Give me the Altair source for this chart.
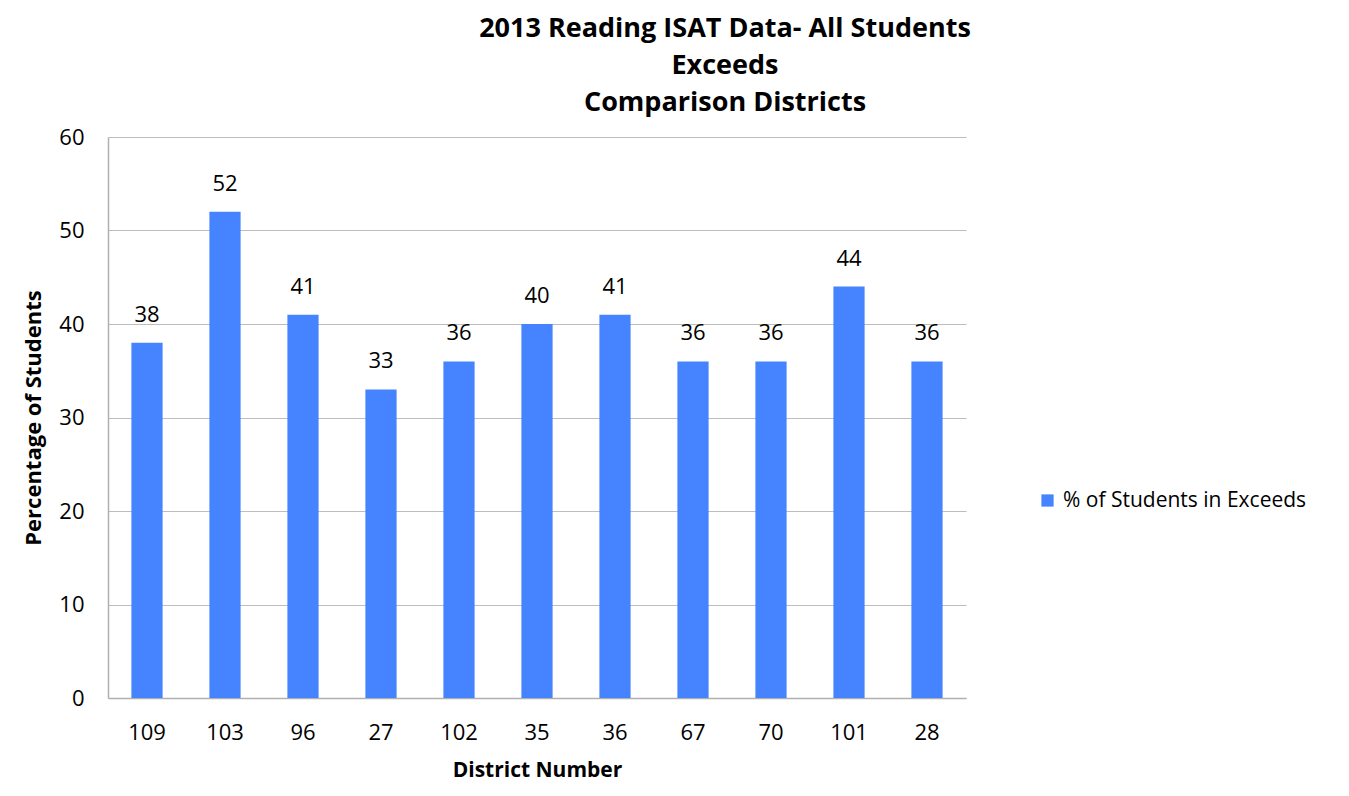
import altair as alt
import pandas as pd

districts = ["109", "103", "96", "27", "102", "35", "36", "67", "70", "101", "28"]
values = [38, 52, 41, 33, 36, 40, 41, 36, 36, 44, 36]
series = "% of Students in Exceeds"

df = pd.DataFrame({"District": districts, "Value": values, "Series": series})

FONT = "Open Sans"
W, H = 858, 561

x = alt.X("District:N", sort=districts,
          scale=alt.Scale(paddingInner=0.6, paddingOuter=0.3),
          axis=alt.Axis(title="District Number", labelAngle=0, labelFontSize=22,
                        labelFont=FONT, labelColor="black", titleFont=FONT,
                        titleFontSize=21, titleFontWeight="bold", titleColor="black",
                        ticks=False, labelPadding=24, titlePadding=16,
                        domainColor="#B0B0B0", domainWidth=1.5))
y = alt.Y("Value:Q", scale=alt.Scale(domain=[0, 60]),
          axis=alt.Axis(title="Percentage of Students", values=[0, 10, 20, 30, 40, 50, 60],
                        labelFontSize=22, labelFont=FONT, labelColor="black",
                        titleFont=FONT, titleFontSize=22, titleFontWeight="bold",
                        titleColor="black", ticks=False, labelPadding=24, titlePadding=13,
                        gridColor="#BDBDBD", gridWidth=1, domainColor="#B0B0B0",
                        domainWidth=1.5))

bars = alt.Chart(df).mark_bar(color="#4583FF").encode(
    x=x, y=y,
    color=alt.Color("Series:N", scale=alt.Scale(range=["#4583FF"]),
                    legend=alt.Legend(title=None, orient="none", legendX=929, legendY=353,
                                      symbolType="square", symbolSize=150,
                                      symbolStrokeWidth=0, labelFontSize=21,
                                      labelFont=FONT, labelColor="black", labelOffset=5,
                                      labelLimit=0)),
)

labels = alt.Chart(df).mark_text(dy=-28, fontSize=22, font=FONT, color="black").encode(
    x=alt.X("District:N", sort=districts), y="Value:Q", text="Value:Q"
)

chart = alt.layer(bars, labels).properties(
    width=W, height=H,
    autosize=alt.AutoSizeParams(type="none"),
    padding={"left": 100, "top": 129, "right": 375, "bottom": 90},
    title=alt.TitleParams(
        text=["2013 Reading ISAT Data- All Students", "Exceeds", "Comparison Districts"],
        font=FONT, fontSize=27, fontWeight="bold", color="black",
        anchor="middle", dx=188, lineHeight=37, offset=9),
).configure_view(stroke=None)

chart.save("out.html", embed_options={"renderer": "svg", "actions": False})
